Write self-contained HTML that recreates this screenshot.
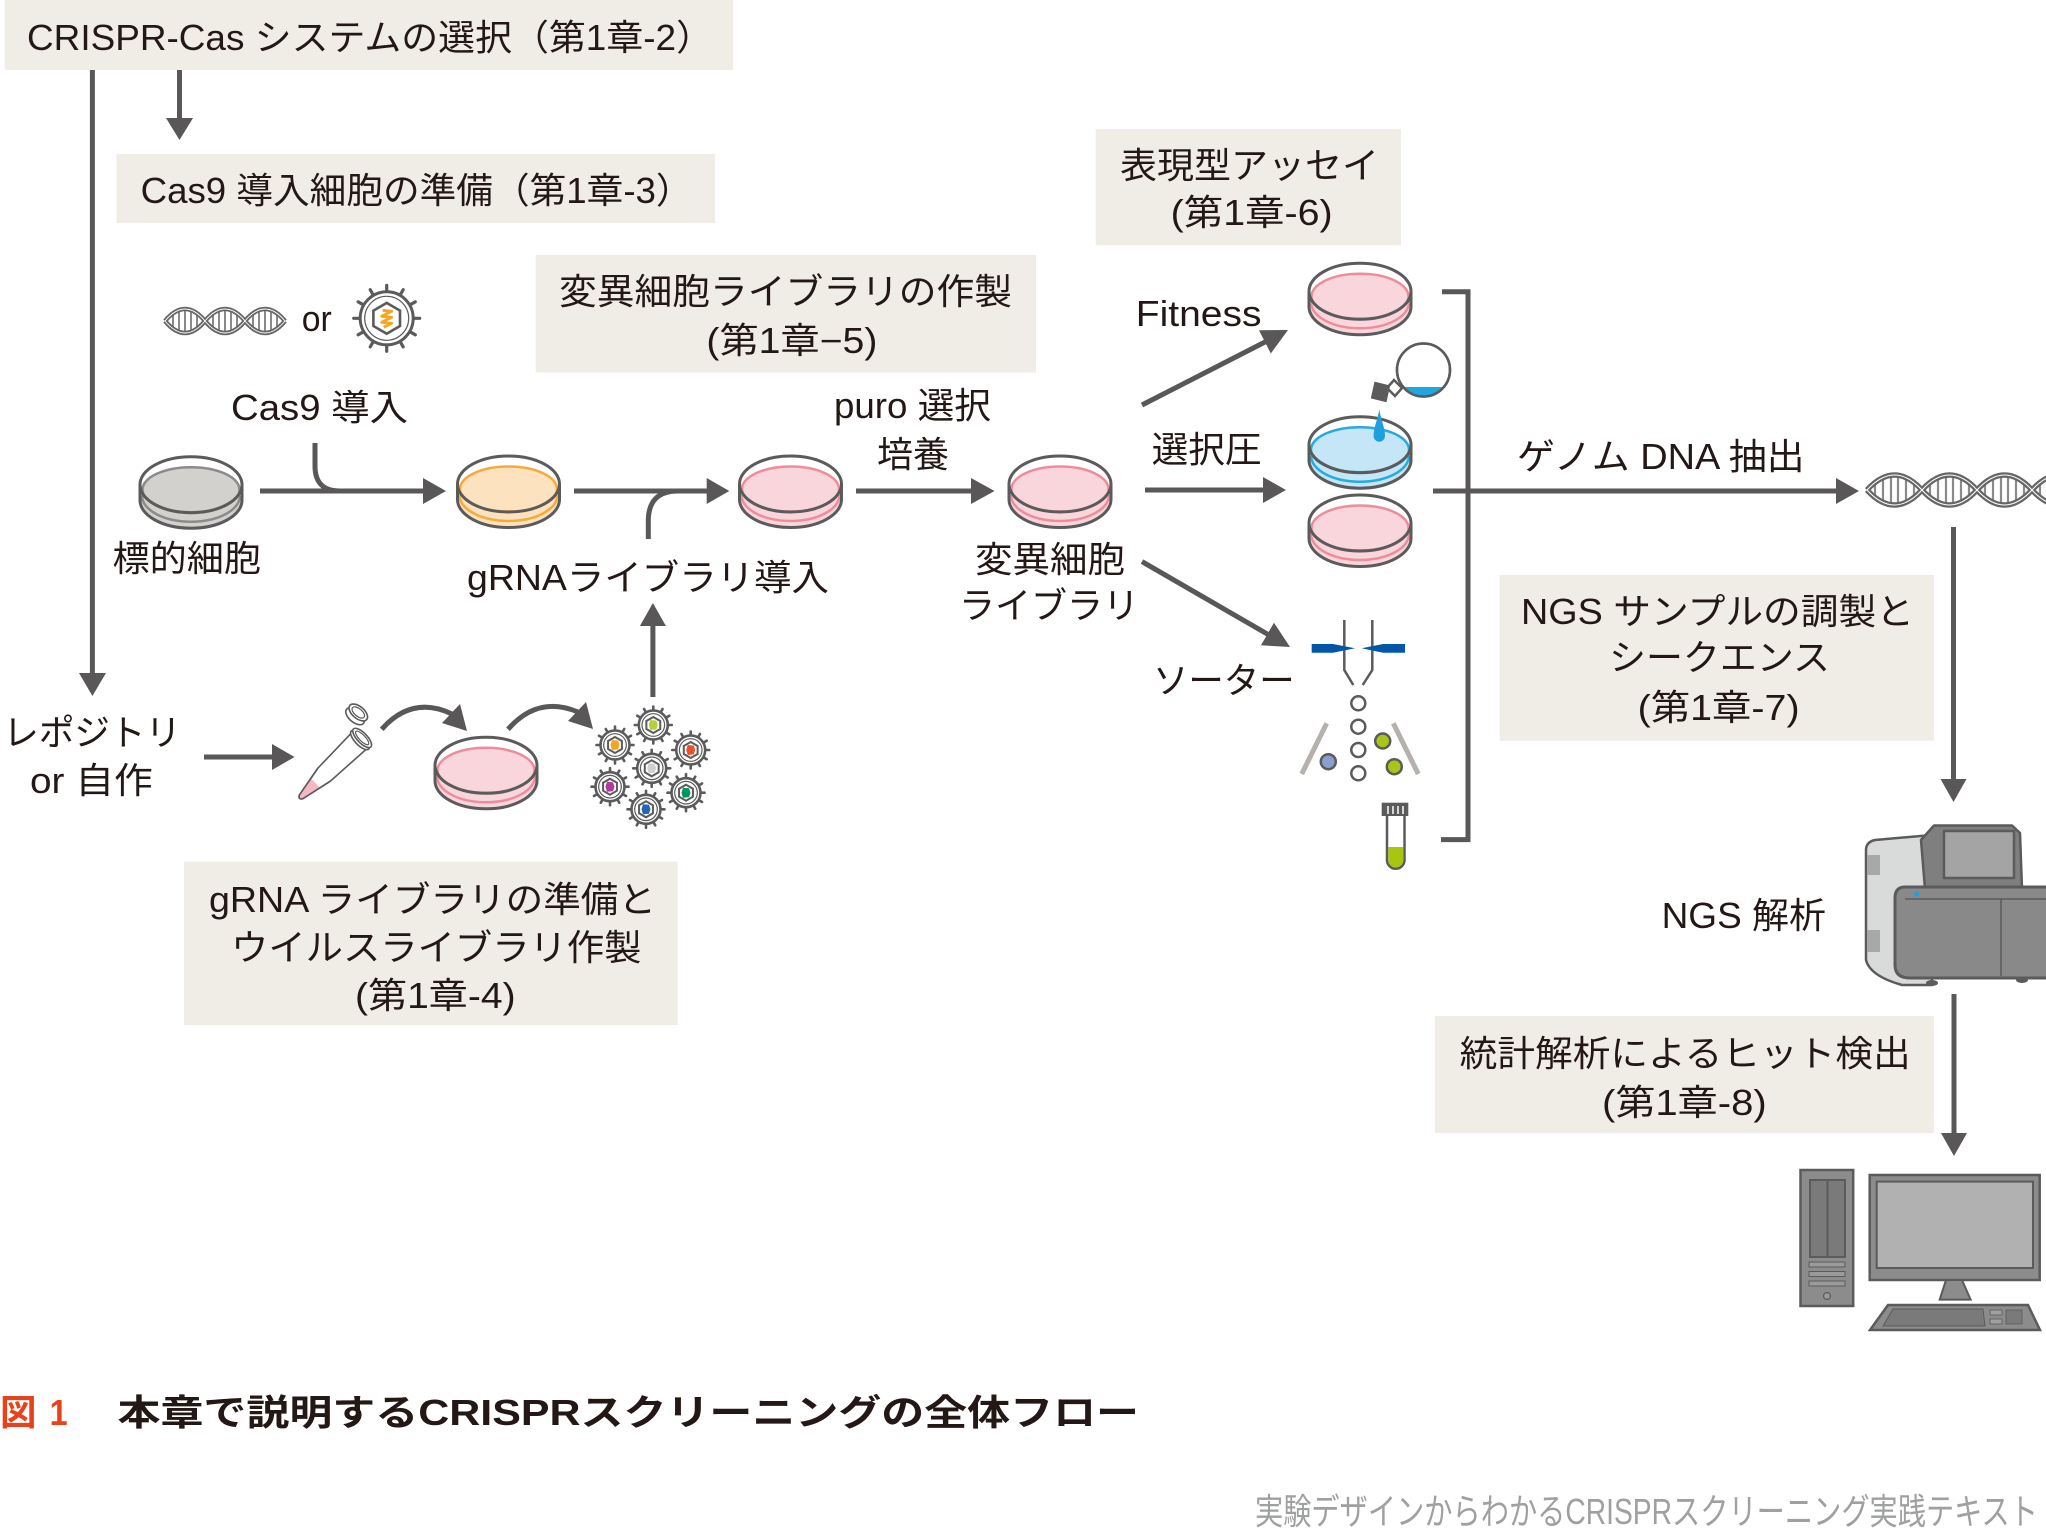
<!DOCTYPE html>
<html><head><meta charset="utf-8"><style>
html,body{margin:0;padding:0;background:#fff;}
body{width:2046px;height:1531px;overflow:hidden;}
svg{display:block;}
text{font-family:"Liberation Sans","Noto Sans CJK JP",sans-serif;fill:#231815;font-size:36px;}
</style></head><body>
<svg width="2046" height="1531" viewBox="0 0 2046 1531" xmlns="http://www.w3.org/2000/svg">
<defs>
<g id="vir">
<path d="M14,0 L18.5,0 M12.12,7 L16.02,9.25 M7,12.12 L9.25,16.02 M0,14 L0,18.5 M-7,12.12 L-9.25,16.02 M-12.12,7 L-16.02,9.25 M-14,0 L-18.5,0 M-12.12,-7 L-16.02,-9.25 M-7,-12.12 L-9.25,-16.02 M0,-14 L0,-18.5 M7,-12.12 L9.25,-16.02 M12.12,-7 L16.02,-9.25" stroke="#5b5b5b" stroke-width="2.6" stroke-linecap="round"/>
<circle r="14.5" fill="#fff" stroke="#5b5b5b" stroke-width="2.6"/>
<circle r="11.3" fill="none" stroke="#5b5b5b" stroke-width="1.2"/>
<polygon points="0,-8 6.93,-4 6.93,4 0,8 -6.93,4 -6.93,-4" fill="#fff" stroke="#5b5b5b" stroke-width="2"/>
</g>
</defs>

<!-- Boxes -->
<g fill="#f0ede6">
<rect x="4.7" y="0" width="728.3" height="70"/>
<rect x="116.5" y="154" width="598.5" height="69"/>
<rect x="535.7" y="255" width="500.3" height="117.5"/>
<rect x="1095.7" y="129" width="305.3" height="116"/>
<rect x="1499.7" y="575" width="434.3" height="165.7"/>
<rect x="1435" y="1016" width="499" height="117"/>
<rect x="184" y="861.6" width="493.6" height="163.4"/>
</g>

<!-- Arrows / connectors -->
<g stroke="#595757" stroke-width="5" fill="none">
<line x1="92.4" y1="70" x2="92.4" y2="675"/>
<line x1="179.5" y1="70" x2="179.5" y2="120"/>
<line x1="260" y1="491" x2="426" y2="491"/>
<path d="M315,443 V466 Q315,491 340,491"/>
<line x1="574" y1="491" x2="709" y2="491"/>
<path d="M648.3,539 V521 Q648.3,491 678,491"/>
<line x1="856" y1="491" x2="973" y2="491"/>
<line x1="652.9" y1="697" x2="652.9" y2="624"/>
<line x1="204" y1="757" x2="275" y2="757"/>
<path d="M381.7,729.3 Q412,695 452,714"/>
<path d="M508,729.3 Q538,695 578,712"/>
<line x1="1142" y1="405" x2="1266" y2="341.5"/>
<line x1="1145" y1="490" x2="1265" y2="490"/>
<line x1="1142" y1="561.6" x2="1269" y2="635"/>
<polyline points="1442,291.7 1468,291.7 1468,839.6 1441,839.6"/>
<line x1="1433" y1="491" x2="1838" y2="491"/>
<line x1="1953.5" y1="527" x2="1953.5" y2="781"/>
<line x1="1954" y1="994" x2="1954" y2="1135"/>
</g>
<g fill="#595757">
<polygon points="79,673 106,673 92.4,696"/>
<polygon points="166,118 193,118 179.5,140"/>
<polygon points="423,478 423,504 446,491"/>
<polygon points="706.7,478 706.7,504 729.3,491"/>
<polygon points="971,478 971,504 994.6,491"/>
<polygon points="639.9,626 665.9,626 652.9,603"/>
<polygon points="272,744 272,770 294.6,757"/>
<polygon points="460,704 442,723 467,731"/>
<polygon points="586,702 568,721 593,729"/>
<polygon points="1270.8,353.5 1259,330.3 1288,330"/>
<polygon points="1263,477 1263,503 1286,490"/>
<polygon points="1261,645.3 1274,622.7 1290,647"/>
<polygon points="1836,478 1836,504 1859,491"/>
<polygon points="1940.5,779 1966.5,779 1953.5,802"/>
<polygon points="1941,1133 1967,1133 1954,1156"/>
</g>

<!-- Dishes -->
<g transform="translate(191,484.7)">
<path d="M-51,0 V15.5 A51,28 0 0 0 51,15.5 V0 Z" fill="#d3d1ce"/>
<ellipse rx="51" ry="28" fill="#fff"/>
<path d="M-49,11 A49,26 0 0 0 49,11" fill="none" stroke="#8d8b89" stroke-width="2.5"/>
<ellipse cy="5" rx="48.5" ry="22.5" fill="#d3d1ce" stroke="#8d8b89" stroke-width="2.5"/>
<ellipse rx="51" ry="28" fill="none" stroke="#5b5b5b" stroke-width="3"/>
<path d="M-51,0 V15.5 A51,28 0 0 0 51,15.5 V0" fill="none" stroke="#5b5b5b" stroke-width="3"/>
</g>
<g transform="translate(508.5,484)">
<path d="M-51,0 V15.5 A51,28 0 0 0 51,15.5 V0 Z" fill="#fde2bf"/>
<ellipse rx="51" ry="28" fill="#fff"/>
<path d="M-49,11 A49,26 0 0 0 49,11" fill="none" stroke="#f6aa3a" stroke-width="2.5"/>
<ellipse cy="5" rx="48.5" ry="22.5" fill="#fde2bf" stroke="#f6aa3a" stroke-width="2.5"/>
<ellipse rx="51" ry="28" fill="none" stroke="#5b5b5b" stroke-width="3"/>
<path d="M-51,0 V15.5 A51,28 0 0 0 51,15.5 V0" fill="none" stroke="#5b5b5b" stroke-width="3"/>
</g>
<g transform="translate(790.5,484)">
<path d="M-51,0 V15.5 A51,28 0 0 0 51,15.5 V0 Z" fill="#f9d6db"/>
<ellipse rx="51" ry="28" fill="#fff"/>
<path d="M-49,11 A49,26 0 0 0 49,11" fill="none" stroke="#ef8c9b" stroke-width="2.5"/>
<ellipse cy="5" rx="48.5" ry="22.5" fill="#f9d6db" stroke="#ef8c9b" stroke-width="2.5"/>
<ellipse rx="51" ry="28" fill="none" stroke="#5b5b5b" stroke-width="3"/>
<path d="M-51,0 V15.5 A51,28 0 0 0 51,15.5 V0" fill="none" stroke="#5b5b5b" stroke-width="3"/>
</g>
<g transform="translate(1060,484)">
<path d="M-51,0 V15.5 A51,28 0 0 0 51,15.5 V0 Z" fill="#f9d6db"/>
<ellipse rx="51" ry="28" fill="#fff"/>
<path d="M-49,11 A49,26 0 0 0 49,11" fill="none" stroke="#ef8c9b" stroke-width="2.5"/>
<ellipse cy="5" rx="48.5" ry="22.5" fill="#f9d6db" stroke="#ef8c9b" stroke-width="2.5"/>
<ellipse rx="51" ry="28" fill="none" stroke="#5b5b5b" stroke-width="3"/>
<path d="M-51,0 V15.5 A51,28 0 0 0 51,15.5 V0" fill="none" stroke="#5b5b5b" stroke-width="3"/>
</g>
<g transform="translate(1360,291.3)">
<path d="M-51,0 V15.5 A51,28 0 0 0 51,15.5 V0 Z" fill="#f9d6db"/>
<ellipse rx="51" ry="28" fill="#fff"/>
<path d="M-49,11 A49,26 0 0 0 49,11" fill="none" stroke="#ef8c9b" stroke-width="2.5"/>
<ellipse cy="5" rx="48.5" ry="22.5" fill="#f9d6db" stroke="#ef8c9b" stroke-width="2.5"/>
<ellipse rx="51" ry="28" fill="none" stroke="#5b5b5b" stroke-width="3"/>
<path d="M-51,0 V15.5 A51,28 0 0 0 51,15.5 V0" fill="none" stroke="#5b5b5b" stroke-width="3"/>
</g>
<g transform="translate(1360,444.7)">
<path d="M-51,0 V15.5 A51,28 0 0 0 51,15.5 V0 Z" fill="#c5e6f7"/>
<ellipse rx="51" ry="28" fill="#fff"/>
<path d="M-49,11 A49,26 0 0 0 49,11" fill="none" stroke="#25aae1" stroke-width="2.5"/>
<ellipse cy="5" rx="49" ry="22.5" fill="#c5e6f7" stroke="#25aae1" stroke-width="2.5"/>
<ellipse rx="51" ry="28" fill="none" stroke="#5b5b5b" stroke-width="3"/>
<path d="M-51,0 V15.5 A51,28 0 0 0 51,15.5 V0" fill="none" stroke="#5b5b5b" stroke-width="3"/>
</g>
<g transform="translate(1360,523)">
<path d="M-51,0 V15.5 A51,28 0 0 0 51,15.5 V0 Z" fill="#f9d6db"/>
<ellipse rx="51" ry="28" fill="#fff"/>
<path d="M-49,11 A49,26 0 0 0 49,11" fill="none" stroke="#ef8c9b" stroke-width="2.5"/>
<ellipse cy="5" rx="48.5" ry="22.5" fill="#f9d6db" stroke="#ef8c9b" stroke-width="2.5"/>
<ellipse rx="51" ry="28" fill="none" stroke="#5b5b5b" stroke-width="3"/>
<path d="M-51,0 V15.5 A51,28 0 0 0 51,15.5 V0" fill="none" stroke="#5b5b5b" stroke-width="3"/>
</g>
<g transform="translate(486,765.3)">
<path d="M-51,0 V15.5 A51,28 0 0 0 51,15.5 V0 Z" fill="#f9d6db"/>
<ellipse rx="51" ry="28" fill="#fff"/>
<path d="M-49,11 A49,26 0 0 0 49,11" fill="none" stroke="#ef8c9b" stroke-width="2.5"/>
<ellipse cy="5" rx="48.5" ry="22.5" fill="#f9d6db" stroke="#ef8c9b" stroke-width="2.5"/>
<ellipse rx="51" ry="28" fill="none" stroke="#5b5b5b" stroke-width="3"/>
<path d="M-51,0 V15.5 A51,28 0 0 0 51,15.5 V0" fill="none" stroke="#5b5b5b" stroke-width="3"/>
</g>

<!-- Flask and drop -->
<g>
<path d="M1394,380 L1402,388 L1395,396 L1387,388 Z" fill="#fff" stroke="#5b5b5b" stroke-width="2.5"/>
<circle cx="1423.5" cy="370" r="26.5" fill="#fff" stroke="#5b5b5b" stroke-width="2.5"/>
<path d="M1402.7,387 A26.5,26.5 0 0 0 1444.3,387 Z" fill="#1fa7e0"/>
<circle cx="1423.5" cy="370" r="26.5" fill="none" stroke="#5b5b5b" stroke-width="2.5"/>
<path d="M1376,381 L1391,387 L1385,403 L1370,397 Z" fill="#5b5b5b" transform="rotate(-8 1380 392)"/>
<path d="M1379.3,409 C1380.5,419 1385,427 1385,436 A5.7,5.7 0 0 1 1373.6,436 C1373.6,427 1378,419 1379.3,409 Z" fill="#1fa0dc"/>
</g>

<!-- Sorter -->
<g>
<path d="M1344.3,620 V670 L1353.3,685 M1372.3,620 V670 L1362.7,685" fill="none" stroke="#5b5b5b" stroke-width="2.5"/>
<path d="M1311.7,644 H1333 L1355,648.3 L1333,652.7 H1311.7 Z" fill="#0057a8"/>
<path d="M1405,644 H1383 L1361.7,648.3 L1383,652.7 H1405 Z" fill="#0057a8"/>
<g fill="#fff" stroke="#5b5b5b" stroke-width="2.5">
<circle cx="1358.3" cy="703.3" r="7"/>
<circle cx="1358.3" cy="726.7" r="7"/>
<circle cx="1358.3" cy="750" r="7"/>
<circle cx="1358.3" cy="773.3" r="7"/>
<circle cx="1328.3" cy="761.7" r="7.5" fill="#8a9fd0"/>
<circle cx="1382.7" cy="741" r="7.5" fill="#a8c51a"/>
<circle cx="1394.3" cy="766.7" r="7.5" fill="#a8c51a"/>
</g>
<line x1="1326.7" y1="723.3" x2="1301.7" y2="774" stroke="#b5b1ac" stroke-width="5"/>
<line x1="1393.3" y1="723.3" x2="1418.3" y2="774" stroke="#b5b1ac" stroke-width="5"/>
<path d="M1387,816 V860 A8.7,8.7 0 0 0 1404.5,860 V816" fill="#fff" stroke="#5b5b5b" stroke-width="2.5"/>
<path d="M1388.3,847 V860 A7.4,7.4 0 0 0 1403.2,860 V847 Z" fill="#a8c60f"/>
<rect x="1381.7" y="802.7" width="26.6" height="13.3" fill="#5b5b5b"/>
<path d="M1388,806 V814 M1393,806 V814 M1398,806 V814 M1403,806 V814" stroke="#fff" stroke-width="1.5"/>
</g>

<!-- DNA left -->
<g fill="none">
<path d="M173,314 V328 M179,310.3 V331.7 M185,309 V333 M191,310.3 V331.7 M197,314 V328 M213,314 V328 M219,310.3 V331.7 M225,309 V333 M231,310.3 V331.7 M237,314 V328 M253,314 V328 M259,310.3 V331.7 M265,309 V333 M271,310.3 V331.7 M277,314 V328" stroke="#8a8a8a" stroke-width="2"/>
<path d="M165,321 C178.3,305 191.7,305 205,321 S231.7,337 245,321 S271.7,305 285,321" stroke="#666" stroke-width="4.5"/>
<path d="M165,321 C178.3,337 191.7,337 205,321 S231.7,305 245,321 S271.7,337 285,321" stroke="#666" stroke-width="4.5"/>
<path d="M165,321 C178.3,305 191.7,305 205,321 S231.7,337 245,321 S271.7,305 285,321" stroke="#fff" stroke-width="0.9"/>
<path d="M165,321 C178.3,337 191.7,337 205,321 S231.7,305 245,321 S271.7,337 285,321" stroke="#fff" stroke-width="0.9"/>
</g>

<!-- DNA right -->
<g fill="none">
<path d="M1875,483.4 V496.6 M1883,478.2 V501.8 M1891,475.3 V504.7 M1898,475.3 V504.7 M1906,478.1 V501.9 M1914,483.3 V496.7 M1930,483.4 V496.6 M1938,478.2 V501.8 M1946,475.3 V504.7 M1953,475.3 V504.7 M1961,478.1 V501.9 M1969,483.3 V496.7 M1985,483.4 V496.6 M1993,478.2 V501.8 M2001,475.3 V504.7 M2008,475.3 V504.7 M2016,478.1 V501.9 M2024,483.3 V496.7 M2040,483.4 V496.6" stroke="#8a8a8a" stroke-width="2.2"/>
<path d="M1867,490 C1885.3,470 1903.7,470 1922,490 S1958.7,510 1977,490 S2013.7,470 2032,490 S2068.7,510 2087,490" stroke="#666" stroke-width="5.5"/>
<path d="M1867,490 C1885.3,510 1903.7,510 1922,490 S1958.7,470 1977,490 S2013.7,510 2032,490 S2068.7,470 2087,490" stroke="#666" stroke-width="5.5"/>
<path d="M1867,490 C1885.3,470 1903.7,470 1922,490 S1958.7,510 1977,490 S2013.7,470 2032,490 S2068.7,510 2087,490" stroke="#fff" stroke-width="1"/>
<path d="M1867,490 C1885.3,510 1903.7,510 1922,490 S1958.7,470 1977,490 S2013.7,510 2032,490 S2068.7,470 2087,490" stroke="#fff" stroke-width="1"/>
</g>

<!-- Big virus -->
<g transform="translate(386.7,318.3)">
<path d="M26,0 L33,0 M22.5,13 L28.6,16.5 M13,22.5 L16.5,28.6 M0,26 L0,33 M-13,22.5 L-16.5,28.6 M-22.5,13 L-28.6,16.5 M-26,0 L-33,0 M-22.5,-13 L-28.6,-16.5 M-13,-22.5 L-16.5,-28.6 M0,-26 L0,-33 M13,-22.5 L16.5,-28.6 M22.5,-13 L28.6,-16.5" stroke="#5b5b5b" stroke-width="3.2" stroke-linecap="round"/>
<circle r="26.5" fill="#fff" stroke="#5b5b5b" stroke-width="3"/>
<circle r="22" fill="none" stroke="#5b5b5b" stroke-width="1.2"/>
<polygon points="0,-15.4 13.3,-7.7 13.3,7.7 0,15.4 -13.3,7.7 -13.3,-7.7" fill="#fff" stroke="#5b5b5b" stroke-width="2.6"/>
<path d="M-4,-8 L5,-7 L-5,-2 L5,-1 L-5,4 L5,5 L-3,9" fill="none" stroke="#f5a51f" stroke-width="2.8" stroke-linejoin="round"/>
</g>

<!-- Small viruses -->
<g>
<use href="#vir" x="653.3" y="725"/>
<use href="#vir" x="615" y="745"/>
<use href="#vir" x="690.7" y="750"/>
<use href="#vir" x="651.7" y="768.3"/>
<use href="#vir" x="610" y="786.7"/>
<use href="#vir" x="686" y="792.7"/>
<use href="#vir" x="646" y="809.3"/>
<path transform="translate(653.3,725)" d="M-3,-5 L3,-4.5 L4.5,0 L3,4.5 L-3,5 L-4.5,0 Z" fill="#b5cf3a"/>
<path transform="translate(615,745)" d="M-3,-5 L3,-4.5 L4.5,0 L3,4.5 L-3,5 L-4.5,0 Z" fill="#f5a51f"/>
<path transform="translate(690.7,750)" d="M-3,-5 L3,-4.5 L4.5,0 L3,4.5 L-3,5 L-4.5,0 Z" fill="#e8522a"/>
<path transform="translate(651.7,768.3)" d="M-3,-5 L3,-4.5 L4.5,0 L3,4.5 L-3,5 L-4.5,0 Z" fill="#d0d0d0"/>
<path transform="translate(610,786.7)" d="M-3,-5 L3,-4.5 L4.5,0 L3,4.5 L-3,5 L-4.5,0 Z" fill="#b03a98"/>
<path transform="translate(686,792.7)" d="M-3,-5 L3,-4.5 L4.5,0 L3,4.5 L-3,5 L-4.5,0 Z" fill="#00945e"/>
<path transform="translate(646,809.3)" d="M-3,-5 L3,-4.5 L4.5,0 L3,4.5 L-3,5 L-4.5,0 Z" fill="#2466b4"/>
</g>

<!-- Eppendorf tube -->
<g transform="translate(360,740) rotate(46)">
<path d="M-11,1 L-9,50 L-2.5,82 Q0,86 2.5,82 L9,50 L11,1" fill="#fff" stroke="#5b5b5b" stroke-width="1.6"/>
<path d="M-6.8,62 L-2.3,81.5 Q0,85 2.3,81.5 L6.8,62 Z" fill="#f4b8c0"/>
<path d="M-9,50 L-2.5,82 Q0,86 2.5,82 L9,50" fill="none" stroke="#5b5b5b" stroke-width="1.6"/>
<ellipse cx="0" cy="0" rx="12.5" ry="5" fill="#fff" stroke="#5b5b5b" stroke-width="1.6"/>
<ellipse cx="0" cy="-3" rx="12.5" ry="5" fill="#fff" stroke="#5b5b5b" stroke-width="1.6"/>
<ellipse cx="0" cy="-3" rx="9" ry="3" fill="none" stroke="#5b5b5b" stroke-width="1.2"/>
</g>
<g transform="translate(357,714) rotate(40)">
<ellipse cx="0" cy="3" rx="11" ry="6" fill="#fff" stroke="#5b5b5b" stroke-width="1.6"/>
<ellipse cx="0" cy="-2" rx="11" ry="6" fill="#fff" stroke="#5b5b5b" stroke-width="1.6"/>
<ellipse cx="0" cy="-2" rx="7.5" ry="3.8" fill="none" stroke="#5b5b5b" stroke-width="1.2"/>
</g>

<!-- NGS machine -->
<g stroke="#5b5b5b" stroke-linejoin="round">
<path d="M1866,850 Q1866,842 1875,840 L1932,835 L1932,985 L1902,985 Q1870,976 1866,960 Z" fill="#d9dbdb" stroke-width="2.5"/>
<rect x="1867" y="855" width="13" height="20" fill="#a7a9a9" stroke="none"/>
<rect x="1867" y="930" width="13" height="22" fill="#a7a9a9" stroke="none"/>
<path d="M1921,840 L1934,825.5 L2012,825.5 L2020,833 L2022,889 L1925,889 Z" fill="#7f7f7f" stroke-width="2.5"/>
<rect x="1944" y="831" width="70" height="47" fill="#a4a4a4" stroke-width="2.5"/>
<line x1="1930" y1="888" x2="2022" y2="888" stroke="#3aa6d8" stroke-width="1"/>
<path d="M2050,887 L1905,887 Q1895,887 1895,898 L1895,965 Q1895,978 1910,978 L2050,978" fill="#898989" stroke-width="3"/>
<line x1="1905" y1="899" x2="2046" y2="899" stroke-width="1.5"/>
<line x1="2001" y1="899" x2="2001" y2="976" stroke-width="1.5"/>
<ellipse cx="1932" cy="983" rx="6" ry="3" fill="#5b5b5b" stroke="none"/>
<ellipse cx="2022" cy="980" rx="6" ry="3" fill="#5b5b5b" stroke="none"/>
</g>
<circle cx="1916.7" cy="894" r="2.6" fill="#1aa0e0"/>

<!-- Computer -->
<g stroke="#5b5b5b">
<rect x="1800.5" y="1170" width="52.7" height="136" fill="#8c8c8c" stroke-width="2.5"/>
<rect x="1810" y="1180" width="35" height="77" fill="#7a7a7a" stroke-width="2"/>
<line x1="1827.5" y1="1180" x2="1827.5" y2="1257" stroke-width="2"/>
<rect x="1809" y="1262" width="36" height="5" fill="#9a9a9a" stroke-width="1"/>
<rect x="1809" y="1271.5" width="36" height="5" fill="#9a9a9a" stroke-width="1"/>
<rect x="1809" y="1281" width="36" height="5" fill="#9a9a9a" stroke-width="1"/>
<circle cx="1827" cy="1296" r="3.5" fill="#9a9a9a" stroke-width="1.2"/>
<rect x="1869.7" y="1175" width="170" height="105" fill="#8c8c8c" stroke-width="2.5"/>
<rect x="1876.7" y="1181.6" width="156.3" height="86.4" fill="#b1b1b1" stroke-width="2"/>
<polygon points="1946,1280 1962,1280 1970.6,1299.6 1939.7,1299.6" fill="#8c8c8c" stroke-width="2"/>
<polygon points="1888,1305 2028,1305 2040,1330 1870,1330" fill="#8c8c8c" stroke-width="2.5"/>
<polygon points="1893,1309 1983,1309 1985,1326 1883,1326" fill="#7a7a7a" stroke-width="1"/>
<rect x="1990" y="1310" width="12" height="5" fill="#a0a0a0" stroke-width="0.8"/>
<rect x="1990" y="1319" width="12" height="5" fill="#a0a0a0" stroke-width="0.8"/>
<rect x="2006" y="1310" width="16" height="14" fill="#7a7a7a" stroke-width="0.8"/>
</g>

<!-- Text -->
<text x="27" y="50" textLength="686" lengthAdjust="spacingAndGlyphs">CRISPR-Cas システムの選択（第1章-2）</text>
<text x="140.6" y="203" textLength="552" lengthAdjust="spacingAndGlyphs">Cas9 導入細胞の準備（第1章-3）</text>
<text x="559" y="304" textLength="453" lengthAdjust="spacingAndGlyphs">変異細胞ライブラリの作製</text>
<text x="706.4" y="353" textLength="171" lengthAdjust="spacingAndGlyphs">(第1章−5)</text>
<text x="301.7" y="331" textLength="30" lengthAdjust="spacingAndGlyphs">or</text>
<text x="231" y="420" textLength="177" lengthAdjust="spacingAndGlyphs">Cas9 導入</text>
<text x="834" y="418" textLength="157" lengthAdjust="spacingAndGlyphs">puro 選択</text>
<text x="877" y="467" textLength="72" lengthAdjust="spacingAndGlyphs">培養</text>
<text x="112.5" y="571" textLength="148.5" lengthAdjust="spacingAndGlyphs">標的細胞</text>
<text x="467" y="590" textLength="362" lengthAdjust="spacingAndGlyphs">gRNAライブラリ導入</text>
<text x="975" y="572" textLength="150" lengthAdjust="spacingAndGlyphs">変異細胞</text>
<text x="959" y="618" textLength="180" lengthAdjust="spacingAndGlyphs">ライブラリ</text>
<text x="1120" y="178" textLength="259" lengthAdjust="spacingAndGlyphs">表現型アッセイ</text>
<text x="1170.7" y="225" textLength="162" lengthAdjust="spacingAndGlyphs">(第1章-6)</text>
<text x="1135.8" y="326" textLength="125.7" lengthAdjust="spacingAndGlyphs">Fitness</text>
<text x="1151.6" y="462" textLength="110" lengthAdjust="spacingAndGlyphs">選択圧</text>
<text x="1153" y="693" textLength="141.6" lengthAdjust="spacingAndGlyphs">ソーター</text>
<text x="1517" y="469" textLength="287.6" lengthAdjust="spacingAndGlyphs">ゲノム DNA 抽出</text>
<text x="1521" y="624" textLength="393" lengthAdjust="spacingAndGlyphs">NGS サンプルの調製と</text>
<text x="1609" y="670" textLength="221" lengthAdjust="spacingAndGlyphs">シークエンス</text>
<text x="1637.6" y="720" textLength="162" lengthAdjust="spacingAndGlyphs">(第1章-7)</text>
<text x="1661.6" y="928" textLength="164.4" lengthAdjust="spacingAndGlyphs">NGS 解析</text>
<text x="1459.7" y="1066" textLength="451" lengthAdjust="spacingAndGlyphs">統計解析によるヒット検出</text>
<text x="1602" y="1115" textLength="164.7" lengthAdjust="spacingAndGlyphs">(第1章-8)</text>
<text x="3.3" y="745" textLength="177.7" lengthAdjust="spacingAndGlyphs">レポジトリ</text>
<text x="30" y="793" textLength="122.7" lengthAdjust="spacingAndGlyphs">or 自作</text>
<text x="209" y="912" textLength="447" lengthAdjust="spacingAndGlyphs">gRNA ライブラリの準備と</text>
<text x="231" y="960" textLength="410.5" lengthAdjust="spacingAndGlyphs">ウイルスライブラリ作製</text>
<text x="355" y="1008" textLength="160.6" lengthAdjust="spacingAndGlyphs">(第1章-4)</text>

<!-- Caption -->
<text x="0" y="1425" font-size="42" font-weight="bold" style="fill:#e8421c" textLength="36.5" lengthAdjust="spacingAndGlyphs">図</text>
<text x="49.6" y="1425" font-size="42" font-weight="bold" style="fill:#e8421c" textLength="18" lengthAdjust="spacingAndGlyphs">1</text>
<text x="117.5" y="1425" font-size="42" font-weight="bold" textLength="1021.5" lengthAdjust="spacingAndGlyphs">本章で説明するCRISPRスクリーニングの全体フロー</text>
<text x="1255" y="1524" font-size="30" style="fill:#9fa0a0" textLength="783" lengthAdjust="spacingAndGlyphs">実験デザインからわかるCRISPRスクリーニング実践テキスト</text>
</svg>
</body></html>
